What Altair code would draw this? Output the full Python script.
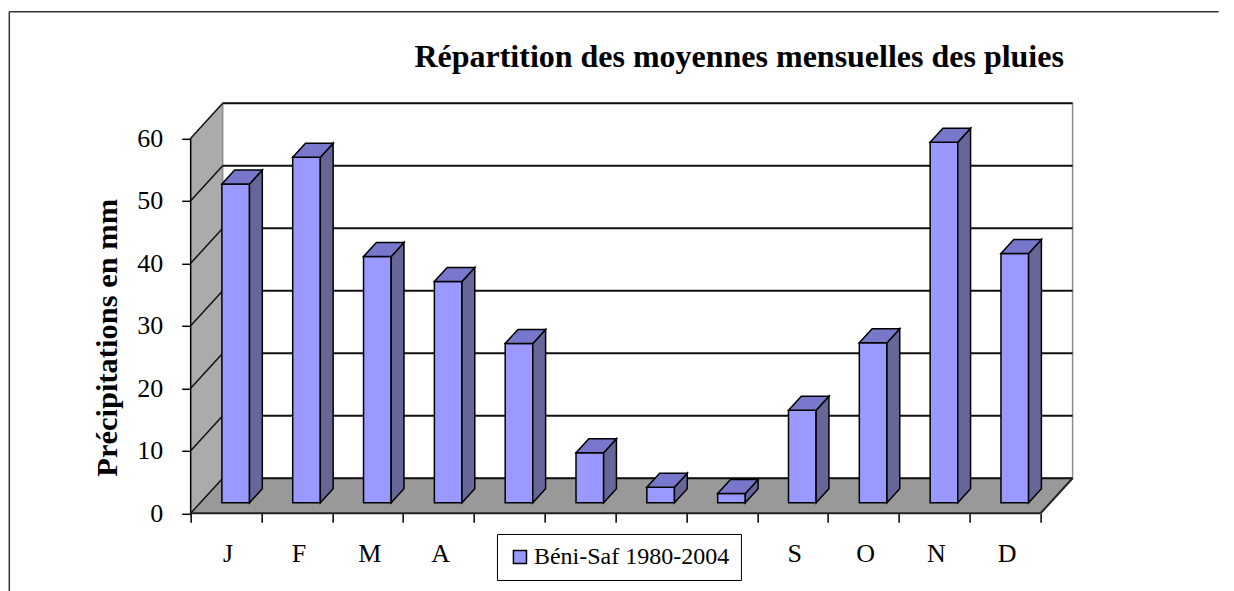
import altair as alt
import pandas as pd

# ---------------- data ----------------
months = ["J", "F", "M", "A", "M", "J", "J", "A", "S", "O", "N", "D"]
rain_mm = [51.0, 55.3, 39.4, 35.4, 25.5, 8.0, 2.5, 1.5, 14.8, 25.6, 57.7, 39.9]
series_name = "Béni-Saf 1980-2004"
y_ticks = [0, 10, 20, 30, 40, 50, 60]
x_bounds = list(range(13))
chart_title = "Répartition des moyennes mensuelles des pluies"
y_title = "Précipitations en mm"
# month labels 5-8 sit under the legend box in the reference, so they are not drawn
hidden_under_legend = [4, 5, 6, 7]

# ---------------- geometry / style ----------------
PX_X = 70.833          # pixels per month slot
PX_Y = 6.25            # pixels per mm
DX = 32 / PX_X         # 3-D depth, in x units
DY = 35 / PX_Y         # 3-D depth, in y units
X_MAX = 12.5
Y_MAX = 66
BAR_L, BAR_R = 0.305, 0.695   # bar position in slot
D0, D1 = 0.3, 0.7             # bar depth span
SERIF = "Liberation Serif"
N = len(months)
TOPV = y_ticks[-1]

xs = alt.Scale(domain=[0, X_MAX], nice=False, zero=False)
ys = alt.Scale(domain=[0, Y_MAX], nice=False, zero=False)
x_axis = alt.Axis(values=x_bounds, labels=False, domain=False, grid=False, ticks=True,
                  tickSize=9, tickColor="black", tickWidth=1.5, title=None)
y_axis = alt.Axis(values=y_ticks, domain=False, grid=False, tickSize=9, tickColor="black",
                  tickWidth=1.5, labelFont=SERIF, labelFontSize=26, labelColor="black",
                  labelPadding=19, labelBaseline="middle",
                  title=y_title, titleFont=SERIF, titleFontSize=30.5, titleFontWeight="bold",
                  titleColor="black", titleAngle=-90, titleX=-73.7, titleY=236.5,
                  titleBaseline="alphabetic", titleAlign="center")


def X(f):
    return alt.X(f, type="quantitative", scale=xs, axis=x_axis)


def Y(f):
    return alt.Y(f, type="quantitative", scale=ys, axis=y_axis)


# ---------------- derived tables ----------------
front = pd.DataFrame({
    "month": months,
    "i": range(N),
    "value": rain_mm,
    "series": series_name,
})
front["x0"] = front["i"] + BAR_L + D0 * DX
front["x1"] = front["i"] + BAR_R + D0 * DX
front["y0"] = D0 * DY
front["y1"] = front["value"] + D0 * DY

side_rows, top_rows = [], []
for i, v in enumerate(rain_mm):
    for d in (D0, D1):
        side_rows.append({"k": i, "x": i + BAR_R + d * DX, "lo": d * DY, "hi": v + d * DY})
        top_rows.append({"k": i, "y": v + d * DY, "xa": i + BAR_L + d * DX, "xb": i + BAR_R + d * DX})
side = pd.DataFrame(side_rows)
top = pd.DataFrame(top_rows)

wall_side = pd.DataFrame({"x": [0, DX], "lo": [0, DY], "hi": [TOPV, TOPV + DY]})
floor = pd.DataFrame({"y": [0, DY], "xa": [0, DX], "xb": [N, N + DX]})
back = pd.DataFrame({"xa": [DX], "xb": [N + DX], "ya": [DY], "yb": [TOPV + DY]})
grid = pd.DataFrame({"v": y_ticks})
grid["vb"] = grid["v"] + DY
grid["xa"] = DX
grid["xb"] = N + DX
grid["x0"] = 0.0
labels = pd.DataFrame({"month": months, "c": [i + 0.5 for i in range(N)], "i": range(N)})
labels = labels[~labels["i"].isin(hidden_under_legend)]
edges = pd.DataFrame({"xa": [0, N], "xb": [N, N + DX], "ya": [0, 0], "yb": [0, DY]})
yline = pd.DataFrame({"x": [0], "ya": [0], "yb": [TOPV]})

# ---------------- layers ----------------
side_wall = alt.Chart(wall_side).mark_area(color="#ABABAB", orient="vertical").encode(
    x=X("x"), y=Y("lo"), y2="hi")
back_wall = alt.Chart(back).mark_rect(fill="white", stroke="#8C8C8C", strokeWidth=1.5).encode(
    x=X("xa"), x2="xb", y=Y("ya"), y2="yb")
floor_l = alt.Chart(floor).mark_area(color="#999999", orient="horizontal").encode(
    y=Y("y"), x=X("xa"), x2="xb")
back_grid = alt.Chart(grid).mark_rule(color="#111111", strokeWidth=2).encode(
    x=X("xa"), x2="xb", y=Y("vb"))
side_grid = alt.Chart(grid).mark_rule(color="#111111", strokeWidth=1.5).encode(
    x=X("x0"), x2="xa", y=Y("v"), y2="vb")
floor_edges = alt.Chart(edges).mark_rule(color="#222222", strokeWidth=2).encode(
    x=X("xa"), x2="xb", y=Y("ya"), y2="yb")
y_line = alt.Chart(yline).mark_rule(color="black", strokeWidth=1.5).encode(
    x=X("x"), y=Y("ya"), y2="yb")

bar_front = alt.Chart(front).mark_rect(stroke="black", strokeWidth=1.5).encode(
    x=X("x0"), x2="x1", y=Y("y0"), y2="y1",
    color=alt.Color("series:N", scale=alt.Scale(range=["#9999FF"]),
                    legend=alt.Legend(title=None, orient="none", legendX=306.3, legendY=433.2,
                                      strokeColor="black", fillColor="white", padding=11,
                                      symbolType="square", symbolSize=170,
                                      symbolStrokeColor="black", symbolStrokeWidth=1.5,
                                      labelFont=SERIF, labelFontSize=24, labelColor="black",
                                      labelOffset=2, labelLimit=500)))
bar_side = alt.Chart(side).mark_area(fill="#666699", stroke="black", strokeWidth=1.5,
                                     orient="vertical").encode(
    x=X("x"), y=Y("lo"), y2="hi", detail="k:N")
bar_top = alt.Chart(top).mark_area(fill="#7777CC", stroke="black", strokeWidth=1.5,
                                   orient="horizontal").encode(
    y=Y("y"), x=X("xa"), x2="xb", detail="k:N")

month_text = alt.Chart(labels).mark_text(font=SERIF, fontSize=26, color="black",
                                         baseline="middle", align="center", dx=2).encode(
    x=X("c"), y=alt.value(452.9), text="month:N")

frame_top = alt.Chart(pd.DataFrame({"k": [0]})).mark_rule(color="#333333", strokeWidth=1.5).encode(
    x=alt.value(-181.4), x2=alt.value(1028), y=alt.value(-89.1))
frame_left = alt.Chart(pd.DataFrame({"k": [0]})).mark_rule(color="#333333", strokeWidth=1.5).encode(
    x=alt.value(-181.4), y=alt.value(-89.1), y2=alt.value(490.2))
title_l = alt.Chart(pd.DataFrame({"t": [chart_title]})).mark_text(
    font=SERIF, fontSize=32, fontWeight="bold", color="black", align="right",
    baseline="alphabetic").encode(x=alt.value(873.3), y=alt.value(-34.1), text="t:N")

chart = alt.layer(
    side_wall, back_wall, floor_l, back_grid, side_grid, floor_edges, y_line,
    bar_front, bar_side, bar_top, month_text, frame_top, frame_left, title_l
).properties(
    width=X_MAX * PX_X, height=Y_MAX * PX_Y,
    autosize=alt.AutoSizeParams(type="none"),
    padding={"left": 182.7, "top": 92.8, "right": 150, "bottom": 77.7},
    background="white",
).configure_view(strokeWidth=0)

chart.save("out.html", embed_options={"renderer": "svg", "actions": False})
